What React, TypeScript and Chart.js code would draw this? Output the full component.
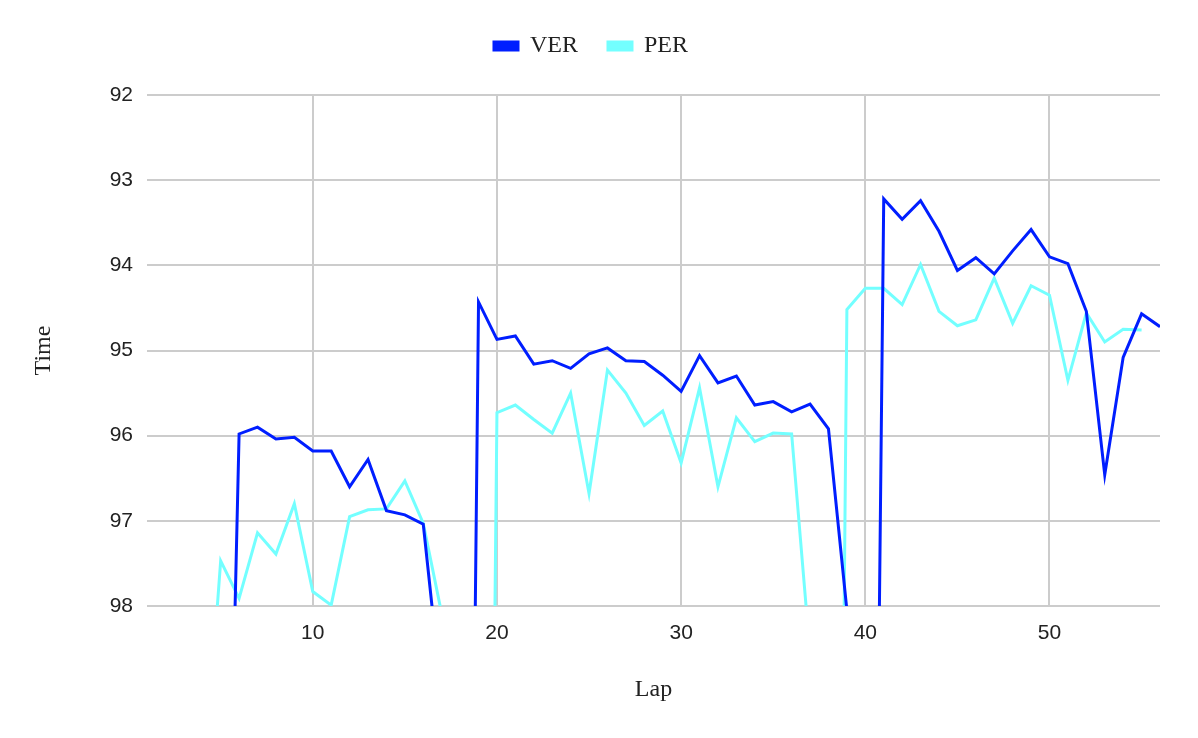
import React, { useEffect, useRef } from 'react';
import { Chart, registerables } from 'chart.js';

Chart.register(...registerables);

const laps = [
  1, 2, 3, 4, 5, 6, 7, 8, 9, 10, 11, 12, 13, 14, 15, 16, 17, 18, 19, 20,
  21, 22, 23, 24, 25, 26, 27, 28, 29, 30, 31, 32, 33, 34, 35, 36, 37, 38, 39, 40,
  41, 42, 43, 44, 45, 46, 47, 48, 49, 50, 51, 52, 53, 54, 55, 56,
];

const verTimes = [
  106.5, 101.2, 100.8, 104.0, 105.3, 95.98, 95.9, 96.04, 96.02, 96.18,
  96.18, 96.6, 96.28, 96.88, 96.93, 97.04, 99.07, 114.9, 94.43, 94.87,
  94.83, 95.16, 95.12, 95.21, 95.04, 94.97, 95.12, 95.13, 95.29, 95.48,
  95.06, 95.38, 95.3, 95.64, 95.6, 95.72, 95.63, 95.92, 98.05, 113.7,
  93.22, 93.46, 93.24, 93.6, 94.06, 93.91, 94.1, 93.83, 93.58, 93.9,
  93.98, 94.54, 96.46, 95.08, 94.57, 94.72,
];

const perTimes = [
  107.3, 101.6, 101.0, 100.4, 97.47, 97.91, 97.14, 97.39, 96.8, 97.83,
  97.99, 96.95, 96.87, 96.86, 96.53, 97.03, 98.09, 99.6, 117.0, 95.73,
  95.64, 95.81, 95.97, 95.5, 96.68, 95.23, 95.5, 95.88, 95.71, 96.32,
  95.44, 96.6, 95.79, 96.07, 95.97, 95.98, 98.56, 118.0, 94.52, 94.27,
  94.27, 94.46, 93.99, 94.54, 94.71, 94.64, 94.15, 94.68, 94.24, 94.35,
  95.35, 94.56, 94.9, 94.75, 94.76, null,
];

const xTickValues = [10, 20, 30, 40, 50];
const yTickValues = [92, 93, 94, 95, 96, 97, 98];

const SERIF = '"Liberation Serif", "Times New Roman", serif';
const SANS = '"Liberation Sans", Arial, sans-serif';

const legendSpacer = {
  id: 'legendSpacer',
  beforeLayout(chart: any) {
    const legend = chart.legend;
    if (!legend || legend._spacerPatched) return;
    const fit = legend.fit;
    legend.fit = function () {
      fit.call(this);
      this.height += 27;
    };
    legend._spacerPatched = true;
  },
};

export default function App() {
  const canvasRef = useRef<HTMLCanvasElement | null>(null);

  useEffect(() => {
    if (!canvasRef.current) return;
    const chart = new Chart(canvasRef.current, {
      type: 'line',
      data: {
        datasets: [
          {
            label: 'VER',
            data: laps.map((l, i) => ({ x: l, y: verTimes[i] })),
            borderColor: '#001eff',
            backgroundColor: '#001eff',
            borderWidth: 3,
            pointRadius: 0,
            tension: 0,
          },
          {
            label: 'PER',
            data: laps.map((l, i) => ({ x: l, y: perTimes[i] })),
            borderColor: '#73ffff',
            backgroundColor: '#73ffff',
            borderWidth: 3,
            pointRadius: 0,
            tension: 0,
          },
        ],
      },
      options: {
        animation: false,
        responsive: true,
        maintainAspectRatio: false,
        layout: { padding: { left: 3, right: 19, top: 4, bottom: 10 } },
        plugins: {
          legend: {
            position: 'top',
            labels: {
              boxWidth: 24,
              boxHeight: 8,
              padding: 30,
              color: '#222',
              font: { family: SERIF, size: 24 },
            },
          },
          tooltip: { enabled: false },
        },
        scales: {
          x: {
            type: 'linear',
            min: 1,
            max: 56,
            afterBuildTicks: (s: any) => {
              s.ticks = xTickValues.map((v) => ({ value: v }));
            },
            afterFit: (s: any) => {
              s.paddingRight = 38;
              s.paddingLeft = 0;
              s.height = 122;
            },
            grid: { color: '#cccccc', lineWidth: 2, drawTicks: false },
            border: { display: false },
            ticks: {
              padding: 15,
              color: '#222',
              font: { family: SANS, size: 21 },
            },
            title: {
              display: true,
              text: 'Lap',
              color: '#222',
              font: { family: SERIF, size: 24 },
              padding: { top: 30, bottom: 24 },
            },
          },
          y: {
            type: 'linear',
            min: 92,
            max: 98,
            reverse: true,
            afterBuildTicks: (s: any) => {
              s.ticks = yTickValues.map((v) => ({ value: v }));
            },
            afterFit: (s: any) => {
              s.width = 144;
            },
            grid: { color: '#cccccc', lineWidth: 2, drawTicks: false },
            border: { display: false },
            ticks: {
              padding: 14,
              color: '#222',
              font: { family: SANS, size: 21 },
            },
            title: {
              display: true,
              text: 'Time',
              color: '#222',
              font: { family: SERIF, size: 24 },
              padding: { top: 26, bottom: 0 },
            },
          },
        },
      },
      plugins: [legendSpacer],
    } as any);
    return () => chart.destroy();
  }, []);

  return (
    <div style={{ position: 'absolute', left: 0, top: 0, width: 1198, height: 738 }}>
      <canvas ref={canvasRef} />
    </div>
  );
}
